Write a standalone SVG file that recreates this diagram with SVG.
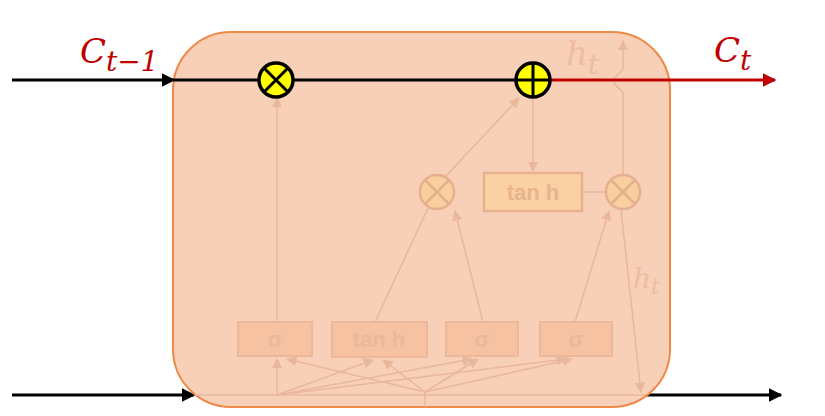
<svg xmlns="http://www.w3.org/2000/svg" width="825" height="416" viewBox="0 0 825 416">
<defs>
<style>
.k{stroke:#000;stroke-width:3;fill:none}
.r{stroke:#C00000;stroke-width:3;fill:none}
.f{stroke:#E9B89C;stroke-width:1.5;fill:none}
.gate{fill:#F6C2A2;stroke:#EDB89A;stroke-width:2}
.gt{font-family:"Liberation Sans",Arial,sans-serif;font-size:22px;font-weight:bold;fill:#EBB89B;text-anchor:middle}
.lab{font-family:"DejaVu Serif","Liberation Serif",serif;font-style:italic;fill:#C00000}
.flab{font-family:"DejaVu Serif","Liberation Serif",serif;font-style:italic;fill:#EDBDA2}
.op{fill:#FFFF00;stroke:#000;stroke-width:3.5}
.fop{fill:#F9CF9F;stroke:#E6B08E;stroke-width:2.5}
</style>
<marker id="ak" viewBox="0 0 10 10" refX="9" refY="5" markerWidth="4.5" markerHeight="4.5" orient="auto" markerUnits="strokeWidth"><path d="M0,0 L10,5 L0,10 z" fill="#000"/></marker>
<marker id="ar" viewBox="0 0 10 10" refX="9" refY="5" markerWidth="4.5" markerHeight="4.5" orient="auto" markerUnits="strokeWidth"><path d="M0,0 L10,5 L0,10 z" fill="#C00000"/></marker>
<marker id="af" viewBox="0 0 10 10" refX="9" refY="5" markerWidth="7" markerHeight="7" orient="auto" markerUnits="strokeWidth"><path d="M0,0 L10,5 L0,10 z" fill="#E9B89C"/></marker>
</defs>
<rect width="825" height="416" fill="#fff"/>
<g id="connectors-outer">
<line class="k" x1="12" y1="80" x2="174" y2="80" marker-end="url(#ak)"/>
<line class="k" x1="12" y1="395" x2="194" y2="395" marker-end="url(#ak)"/>
<line class="k" x1="646" y1="395" x2="781" y2="395" marker-end="url(#ak)"/>
</g>
<g id="cell">
<rect x="173" y="32" width="497" height="375" rx="58" ry="58" fill="#F8CFB7" stroke="#EE8A48" stroke-width="2"/>
</g>
<g id="connectors">
<line class="f" x1="195" y1="395" x2="645" y2="395"/>
<line class="f" x1="425" y1="392" x2="425" y2="407"/>
<line class="f" x1="277" y1="395" x2="277" y2="359" marker-end="url(#af)"/>
<line class="f" x1="425" y1="392" x2="287" y2="359" marker-end="url(#af)"/>
<line class="f" x1="277" y1="395" x2="373" y2="360" marker-end="url(#af)"/>
<line class="f" x1="425" y1="392" x2="383" y2="360" marker-end="url(#af)"/>
<line class="f" x1="277" y1="395" x2="472" y2="359" marker-end="url(#af)"/>
<line class="f" x1="425" y1="392" x2="478" y2="359" marker-end="url(#af)"/>
<line class="f" x1="277" y1="395" x2="566" y2="359" marker-end="url(#af)"/>
<line class="f" x1="425" y1="392" x2="572" y2="359" marker-end="url(#af)"/>
<line class="f" x1="277" y1="322" x2="277" y2="98" marker-end="url(#af)"/>
<line class="f" x1="375" y1="322" x2="428" y2="208"/>
<line class="f" x1="483" y1="322" x2="455" y2="211" marker-end="url(#af)"/>
<line class="f" x1="445" y1="177" x2="519" y2="98" marker-end="url(#af)"/>
<line class="f" x1="533" y1="98" x2="533" y2="171" marker-end="url(#af)"/>
<line class="f" x1="582" y1="192" x2="605" y2="192"/>
<line class="f" x1="575" y1="322" x2="609" y2="211" marker-end="url(#af)"/>
<line class="f" x1="621" y1="210" x2="641" y2="392" marker-end="url(#af)"/>
<path class="f" d="M623,174 L623,94 C623,88 614,88 614,81 C614,74 623,74 623,67 L623,41" marker-end="url(#af)"/>
<line class="k" x1="173" y1="80" x2="259" y2="80"/>
<line class="k" x1="293" y1="80" x2="516" y2="80"/>
<line class="r" x1="550" y1="80" x2="775" y2="80" marker-end="url(#ar)"/>
</g>
<g id="gate-f"><rect class="gate" x="238" y="322" width="74" height="34"/><text class="gt" x="275" y="347">σ</text></g>
<g id="gate-c"><rect class="gate" x="332" y="322" width="95" height="35"/><text class="gt" x="379" y="347">tan h</text></g>
<g id="gate-i"><rect class="gate" x="446" y="322" width="72" height="34"/><text class="gt" x="482" y="347">σ</text></g>
<g id="gate-o"><rect class="gate" x="540" y="322" width="72" height="34"/><text class="gt" x="576" y="347">σ</text></g>
<g id="tanh-out"><rect x="484" y="173" width="98" height="38" fill="#FAD1A3" stroke="#E8B190" stroke-width="2.5"/><text class="gt" x="533" y="200" style="fill:#E8B38F">tan h</text></g>
<g id="mul-i"><circle class="fop" cx="437" cy="192" r="17"/><path d="M425,180 L449,204 M449,180 L425,204" stroke="#E6B08E" stroke-width="2.5"/></g>
<g id="mul-o"><circle class="fop" cx="623" cy="192" r="17"/><path d="M611,180 L635,204 M635,180 L611,204" stroke="#E6B08E" stroke-width="2.5"/></g>
<g id="mul-f"><circle class="op" cx="276" cy="80" r="17"/><path d="M264,68 L288,92 M288,68 L264,92" stroke="#000" stroke-width="3"/></g>
<g id="add"><circle class="op" cx="533" cy="80" r="17"/><path d="M533,63 L533,97 M516,80 L550,80" stroke="#000" stroke-width="3"/></g>
<g id="labels">
<text class="lab" x="80" y="63" font-size="34">C<tspan font-size="28" dy="8">t−1</tspan></text>
<text class="lab" x="714" y="62" font-size="34">C<tspan font-size="28" dy="8">t</tspan></text>
<text class="flab" x="566" y="65" font-size="34">h<tspan font-size="28" dy="9">t</tspan></text>
<text class="flab" x="633" y="288" font-size="28">h<tspan font-size="22" dy="6">t</tspan></text>
</g>
</svg>
